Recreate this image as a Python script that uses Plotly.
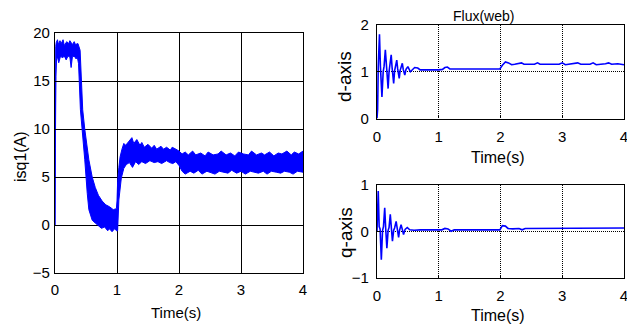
import plotly.graph_objects as go

# ---------------- data ----------------
# left panel: isq1 current, noisy band given by upper / lower envelopes
isq_t_up = [0.000, 0.004, 0.012, 0.020, 0.040, 0.055, 0.080, 0.100, 0.130, 0.150,
            0.190, 0.220, 0.240, 0.280, 0.310, 0.330, 0.370, 0.405, 0.447, 0.480,
            0.546, 0.600, 0.650, 0.700, 0.760, 0.820, 0.880, 0.940, 0.990, 1.000,
            1.010, 1.030, 1.050, 1.080, 1.110, 1.140, 1.200, 1.240, 1.270, 1.320,
            1.370, 1.400, 1.440, 1.500, 1.560, 1.600, 1.640, 1.710, 1.750, 1.800,
            1.860, 1.890, 1.950, 2.000, 2.050, 2.100, 2.150, 2.220, 2.270, 2.350,
            2.420, 2.470, 2.550, 2.630, 2.680, 2.760, 2.830, 2.900, 2.960, 3.040,
            3.120, 3.170, 3.250, 3.330, 3.380, 3.460, 3.530, 3.600, 3.660, 3.740,
            3.810, 3.860, 3.930, 4.000]
isq_up = [0.0, 15.5, 18.6, 19.0, 19.3, 18.8, 19.2, 18.9, 19.3, 18.7,
          19.1, 18.9, 19.2, 18.8, 19.1, 18.8, 18.9, 18.2, 12.0, 10.0,
          6.8, 5.0, 3.9, 3.1, 2.5, 2.1, 1.9, 1.6, 1.7, 2.5,
          4.5, 6.0, 7.1, 7.9, 8.5, 8.3, 8.8, 9.1, 8.5, 8.9,
          8.3, 8.6, 8.1, 8.4, 8.0, 8.3, 7.9, 8.2, 7.9, 8.1,
          7.8, 8.1, 7.9, 7.7, 7.4, 7.6, 7.3, 7.7, 7.3, 7.5,
          7.2, 7.6, 7.3, 7.4, 7.7, 7.3, 7.5, 7.2, 7.6, 7.4,
          7.3, 7.7, 7.3, 7.5, 7.3, 7.6, 7.2, 7.5, 7.4, 7.7,
          7.3, 7.6, 7.4, 7.7]

isq_t_lo = [0.000, 0.006, 0.015, 0.025, 0.040, 0.060, 0.090, 0.120, 0.150, 0.180,
            0.210, 0.240, 0.260, 0.280, 0.310, 0.340, 0.360, 0.380, 0.410, 0.437,
            0.480, 0.503, 0.520, 0.546, 0.600, 0.650, 0.700, 0.750, 0.800, 0.850,
            0.880, 0.920, 0.960, 0.995, 1.010, 1.030, 1.070, 1.110, 1.150, 1.200,
            1.250, 1.300, 1.350, 1.400, 1.460, 1.530, 1.600, 1.660, 1.720, 1.800,
            1.850, 1.900, 1.950, 2.000, 2.050, 2.100, 2.180, 2.240, 2.310, 2.370,
            2.450, 2.510, 2.580, 2.650, 2.720, 2.790, 2.850, 2.930, 3.000, 3.070,
            3.150, 3.210, 3.280, 3.360, 3.420, 3.490, 3.570, 3.640, 3.700, 3.780,
            3.840, 3.910, 4.000]
isq_lo = [0.0, 8.0, 15.5, 17.3, 17.5, 16.9, 17.6, 17.4, 17.6, 17.2,
          17.6, 17.5, 16.4, 17.5, 17.6, 17.3, 17.5, 16.8, 12.0, 10.0,
          6.8, 5.0, 3.3, 1.6, 0.5, 0.2, -0.1, -0.35, -0.2, -0.6,
          -0.4, -0.7, -0.4, -0.6, -0.6, 2.6, 4.9, 5.9, 6.3, 6.5,
          6.0, 6.6, 6.3, 6.6, 6.4, 6.7, 6.5, 6.6, 6.4, 6.7,
          6.5, 6.4, 6.6, 6.2, 5.6, 5.3, 5.6, 5.4, 5.7, 5.3,
          5.6, 5.5, 5.3, 5.6, 5.5, 5.4, 5.7, 5.4, 5.6, 5.3,
          5.6, 5.5, 5.4, 5.6, 5.3, 5.6, 5.5, 5.4, 5.6, 5.5,
          5.3, 5.6, 5.5]

# right-top panel: d-axis flux
fd_t = [0.000, 0.010, 0.020, 0.040, 0.055, 0.080, 0.100, 0.115, 0.135, 0.150,
        0.180, 0.195, 0.210, 0.230, 0.245, 0.270, 0.285, 0.300, 0.320, 0.335,
        0.360, 0.375, 0.390, 0.410, 0.425, 0.450, 0.470, 0.500, 0.540, 0.580,
        0.610, 0.660, 0.700, 1.000, 1.060, 1.100, 1.140, 1.180, 1.990, 2.030,
        2.080, 2.130, 2.180, 2.230, 2.300, 2.340, 2.380, 2.550, 2.600, 2.640,
        2.950, 3.000, 3.050, 3.200, 3.250, 3.300, 3.450, 3.500, 3.550, 3.700,
        3.750, 3.800, 3.900, 4.000]
fd_v = [0.00, 0.20, 1.10, 1.80, 1.12, 0.46, 1.00, 1.12, 1.47, 1.10,
        0.64, 1.00, 1.12, 1.36, 1.08, 0.75, 1.02, 1.12, 1.25, 1.06,
        0.86, 1.03, 1.10, 1.18, 1.05, 0.93, 1.05, 1.11, 1.00, 1.05,
        1.09, 1.08, 1.04, 1.04, 1.05, 1.09, 1.10, 1.06, 1.06, 1.14,
        1.21, 1.19, 1.15, 1.16, 1.17, 1.19, 1.16, 1.16, 1.19, 1.16,
        1.16, 1.19, 1.15, 1.17, 1.19, 1.16, 1.16, 1.19, 1.15, 1.17,
        1.19, 1.16, 1.17, 1.15]

# right-bottom panel: q-axis flux
fq_t = [0.000, 0.008, 0.020, 0.035, 0.050, 0.070, 0.090, 0.105, 0.125, 0.140,
        0.160, 0.180, 0.195, 0.215, 0.230, 0.250, 0.270, 0.285, 0.310, 0.325,
        0.350, 0.365, 0.375, 0.390, 0.410, 0.430, 0.455, 0.490, 0.530, 0.600,
        0.700, 1.050, 1.100, 1.150, 1.200, 1.250, 1.990, 2.030, 2.080, 2.120,
        2.200, 2.300, 2.350, 2.400, 4.000]
fq_v = [0.00, 0.40, 0.86, 0.10, 0.05, -0.61, 0.02, 0.10, 0.50, 0.08,
        -0.36, 0.02, 0.08, 0.36, 0.06, -0.21, 0.02, 0.07, 0.21, 0.05,
        -0.13, 0.02, 0.06, 0.14, 0.04, -0.07, 0.04, 0.08, 0.03, 0.02,
        0.03, 0.03, 0.06, 0.05, 0.00, 0.03, 0.03, 0.12, 0.11, 0.06,
        0.05, 0.06, 0.03, 0.06, 0.07]

x_ticks = [0, 1, 2, 3, 4]
isq_ticks = [-5, 0, 5, 10, 15, 20]
fd_ticks = [0, 1, 2]
fq_ticks = [-1, 0, 1]

# ---------------- figure ----------------
PAGE_W, PAGE_H = 635, 328
OFF = 8                      # default body margin of the html page
W, H = PAGE_W - OFF, PAGE_H - OFF
BLUE = "#0000FF"
FONT = "Arial, Liberation Sans, sans-serif"

fig = go.Figure()

fig.add_trace(go.Scatter(
    x=isq_t_up + isq_t_lo[::-1], y=isq_up + isq_lo[::-1],
    fill="toself", fillcolor=BLUE, mode="lines",
    line=dict(color=BLUE, width=1), xaxis="x", yaxis="y", hoverinfo="skip"))

fig.add_trace(go.Scatter(x=fd_t, y=fd_v, mode="lines",
                         line=dict(color=BLUE, width=1.6), xaxis="x2", yaxis="y2"))
fig.add_trace(go.Scatter(x=fq_t, y=fq_v, mode="lines",
                         line=dict(color=BLUE, width=1.6), xaxis="x3", yaxis="y3"))


def px_x(a, b):
    return [(a - OFF) / W, (b - OFF) / W]


def px_y(top, bottom):
    return [1 - (bottom - OFF) / H, 1 - (top - OFF) / H]


common = dict(showline=True, mirror=True, linecolor="black", linewidth=1.2,
              showgrid=True, gridcolor="black", gridwidth=1, zeroline=False,
              ticks="inside", ticklen=3, tickcolor="black", automargin=False)

fig.update_layout(
    width=W, height=H, margin=dict(l=0, r=0, t=0, b=0),
    paper_bgcolor="white", plot_bgcolor="white", showlegend=False,
    font=dict(family=FONT, color="black"),
    xaxis=dict(domain=px_x(55, 303), range=[0, 4], tickvals=x_ticks, anchor="y",
               tickfont=dict(size=15), ticklabelstandoff=3, **common),
    yaxis=dict(domain=px_y(33, 273), range=[-5, 20], tickvals=isq_ticks, anchor="x",
               tickfont=dict(size=15), ticklabelstandoff=1, **common),
    xaxis2=dict(domain=px_x(377, 624), range=[0, 4], tickvals=x_ticks, anchor="y2",
                tickfont=dict(size=15), ticklabelstandoff=4, griddash="1px,1px", **common),
    yaxis2=dict(domain=px_y(25, 118.5), range=[0, 2], tickvals=fd_ticks, anchor="x2",
                tickfont=dict(size=15), ticklabelstandoff=4, griddash="1px,1px", **common),
    xaxis3=dict(domain=px_x(377, 624), range=[0, 4], tickvals=x_ticks, anchor="y3",
                tickfont=dict(size=15), ticklabelstandoff=4, griddash="1px,1px", **common),
    yaxis3=dict(domain=px_y(184.5, 278), range=[-1, 1], tickvals=fq_ticks, anchor="x3",
                tickfont=dict(size=15), ticklabelstandoff=4, griddash="1px,1px", **common),
)


def label(text, x, y, size, angle=0, family=FONT):
    fig.add_annotation(text=text, x=(x - OFF) / W, y=1 - (y - OFF) / H,
                       xref="paper", yref="paper",
                       showarrow=False, textangle=angle, xanchor="center", yanchor="middle",
                       font=dict(size=size, family=family, color="black"))


label("isq1(A)", 20, 157, 16, -90)
label("Time(s)", 176, 312, 15)
label("Flux(web)", 483, 16, 14)
label("d-axis", 345, 77, 19, -90)
label("Time(s)", 498, 157, 16)
label("q-axis", 345, 233, 19, -90)
label("Time(s)", 498, 315, 16)

fig.write_html("out.html")
